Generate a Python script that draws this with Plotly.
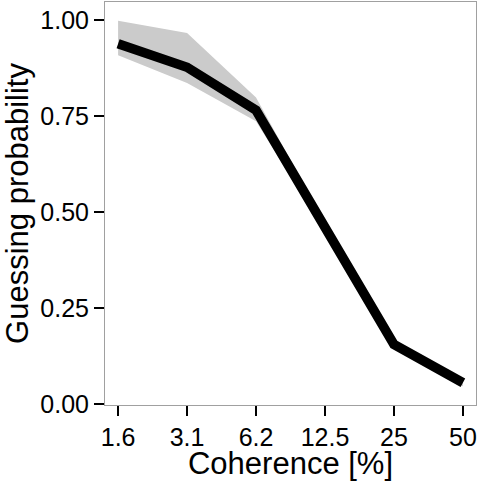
import plotly.graph_objects as go

coherence_labels = ["1.6", "3.1", "6.2", "12.5", "25", "50"]
guess_prob = [0.938, 0.877, 0.765, 0.460, 0.155, 0.055]
ribbon_upper = [0.998, 0.966, 0.798, 0.472, 0.168, 0.064]
ribbon_lower = [0.908, 0.836, 0.736, 0.448, 0.144, 0.046]

xpos = list(range(len(coherence_labels)))

fig = go.Figure()
fig.add_trace(go.Scatter(
    x=xpos + xpos[::-1],
    y=ribbon_upper + ribbon_lower[::-1],
    fill="toself", fillcolor="#cbcbcb",
    line=dict(width=0, color="#cbcbcb"),
    mode="lines", hoverinfo="skip", showlegend=False,
))
fig.add_trace(go.Scatter(
    x=xpos, y=guess_prob, mode="lines",
    line=dict(color="black", width=9.5),
    showlegend=False,
))

fig.update_layout(
    width=478, height=481,
    margin=dict(l=105, r=2, t=2, b=76),
    paper_bgcolor="white", plot_bgcolor="white",
    font=dict(family="Liberation Sans, Arial, sans-serif", color="black"),
    xaxis=dict(
        range=[-0.19, 5.19], tickmode="array", tickvals=xpos,
        ticktext=coherence_labels, showgrid=False, zeroline=False,
        showline=True, linecolor="#a0a0a0", linewidth=1, mirror=True,
        ticks="outside", ticklen=10, tickwidth=2, tickcolor="black",
        tickfont=dict(size=25, color="black"),
        title=dict(text="Coherence [%]", font=dict(size=31, color="black"), standoff=0),
    ),
    yaxis=dict(
        range=[-0.003, 1.047], tickvals=[0, 0.25, 0.5, 0.75, 1.0],
        ticktext=["0.00", "0.25", "0.50", "0.75", "1.00"],
        showgrid=False, zeroline=False,
        showline=True, linecolor="#a0a0a0", linewidth=1, mirror=True,
        ticks="outside", ticklen=10, tickwidth=2, tickcolor="black",
        tickfont=dict(size=25, color="black"),
        title=dict(text="Guessing probability", font=dict(size=31, color="black"), standoff=3),
    ),
)

fig.write_html("out.html")
